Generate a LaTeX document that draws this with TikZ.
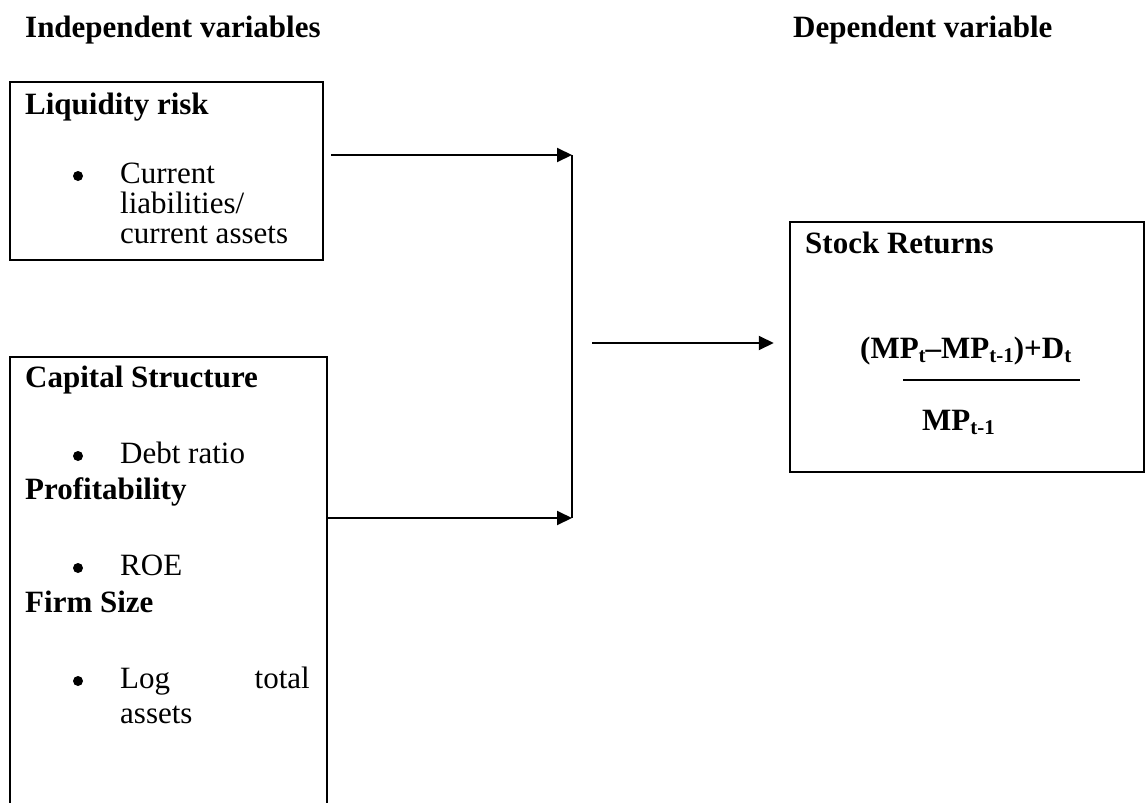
\documentclass[tikz,border=0pt]{standalone}
\usepackage{fontspec}
\setmainfont{Liberation Serif}
\usetikzlibrary{arrows.meta,calc}
\newcommand\mysub[1]{\raisebox{-0.3ex}{\fontsize{21}{21}\selectfont #1}}
\begin{document}
\begin{tikzpicture}[x=1pt,y=-1pt,
  txt/.style={anchor=base west, inner sep=0pt, font=\fontsize{31}{36}\selectfont},
  bold/.style={anchor=base west, inner sep=0pt, font=\fontsize{31}{36}\selectfont\bfseries},
  boxline/.style={line width=2.5pt},
  conn/.style={line width=2pt},
  arr/.style={conn, -{Triangle[length=15pt,width=14pt]}},
  dot/.style={circle, fill=black, inner sep=0pt, minimum size=10pt}]
\useasboundingbox (0,0) rectangle (1146,803);

% headings
\node[bold] (h1) at (25,37) {Independent variables};
\node[bold] (h2) at (793,37) {Dependent variable};

% box 1
\node[draw, boxline, minimum width=313pt, minimum height=178pt, inner sep=0pt] (b1) at (166.5,171) {};
\node[bold] (t1) at (25,114) {Liquidity risk};
\node[dot] (d1) at (78,176) {};
\node[txt] (t1a) at (120,183) {Current};
\node[txt] (t1b) at (120,213) {liabilities/};
\node[txt] (t1c) at (120,243) {current assets};

% box 2 (open at bottom)
\node[minimum width=317pt, minimum height=446pt, inner sep=0pt] (b2) at (168.5,580) {};
\draw[boxline] (b2.south west) -- (b2.north west) -- (b2.north east) -- (b2.south east);
\node[bold] (t2) at (25,387) {Capital Structure};
\node[dot] (d2) at (78,456) {};
\node[txt] (t2a) at (120,463) {Debt ratio};
\node[bold] (t3) at (25,499) {Profitability};
\node[dot] (d3) at (78,568) {};
\node[txt] (t3a) at (120,575) {ROE};
\node[bold] (t4) at (25,612) {Firm Size};
\node[dot] (d4) at (78,681) {};
\node[txt] (t4a) at (120,688) {Log};
\node[txt, anchor=base east] (t4b) at (310,688) {total};
\node[txt] (t4c) at (120,723) {assets};

% box 3
\node[draw, boxline, minimum width=354pt, minimum height=250pt, inner sep=0pt] (b3) at (967,347) {};
\node[bold] (t5) at (805,253) {Stock Returns};
\node[bold] (num) at (860,358) {(MP\mysub{t}\textendash MP\mysub{t-1})+D\mysub{t}};
\coordinate (fl) at (903,380);
\coordinate (fr) at (1080,380);
\draw[conn] (fl) -- (fr);
\node[bold] (den) at (922,430) {MP\mysub{t-1}};

% connectors
\coordinate (j1) at (572,155);
\coordinate (jm) at (572,335);
\coordinate (j2) at (572,518);
\coordinate (a3) at (592,343);
\draw[arr] ($(j1 -| b1.east)+(7,0)$) -- (j1);
\draw[arr] (j2 -| b2.east) -- (j2);
\draw[line width=1.3pt] (j1) -- (jm);
\draw[conn] (jm) -- (j2);
\draw[arr] (a3) -- ($(a3 -| b3.west)+(-15,0)$);
\end{tikzpicture}
\end{document}
